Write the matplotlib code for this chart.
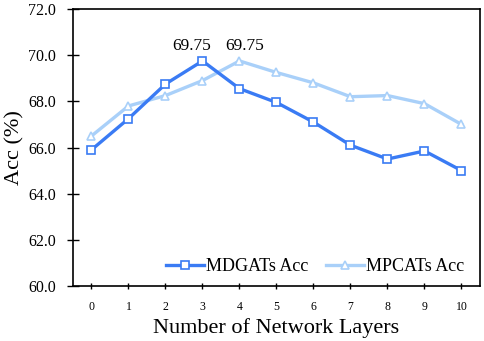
import numpy as np
import matplotlib
matplotlib.use("Agg")
import matplotlib.pyplot as plt

layers = list(range(11))
mdgats_acc = [65.9, 67.25, 68.75, 69.75, 68.55, 67.95, 67.1, 66.1, 65.5, 65.85, 65.0]
mpcats_acc = [66.5, 67.8, 68.25, 68.9, 69.75, 69.25, 68.8, 68.2, 68.25, 67.9, 67.0]
yticks = [60.0, 62.0, 64.0, 66.0, 68.0, 70.0, 72.0]

plt.rcParams['font.family'] = ['Liberation Serif', 'DejaVu Serif']

fig = plt.figure(figsize=(4.85, 3.41), dpi=100)
ax = fig.add_axes([73 / 485, 1 - 286 / 341, (480 - 73) / 485, (286 - 9) / 341])

ax.plot(layers, mdgats_acc, color='#3a7bf4', lw=2.4, marker='s', ms=5.5,
        mfc='white', mec='#3a7bf4', mew=1.2, label='MDGATs Acc', zorder=3)
ax.plot(layers, mpcats_acc, color='#a9d0f9', lw=2.4, marker='^', ms=6,
        mfc='white', mec='#a9d0f9', mew=1.2, label='MPCATs Acc', zorder=2)

# peak labels
ax.text(3 - 0.3, 70.4, f"{mdgats_acc[3]:.2f}", ha='center', va='center', fontsize=12.5)
ax.text(4 + 0.14, 70.4, f"{mpcats_acc[4]:.2f}", ha='center', va='center', fontsize=12.5)

ax.set_xlim(-0.5, 10.5)
ax.set_ylim(60, 72)
ax.set_xticks(layers)
ax.set_yticks(yticks)
ax.set_yticklabels([f"{v:.1f}" for v in yticks])
ax.tick_params(axis='y', direction='inout', length=8, width=1, labelsize=11.5, pad=8)
ax.tick_params(axis='x', direction='inout', length=5, width=1, labelsize=8.5, pad=8)
for s in ax.spines.values():
    s.set_linewidth(1.2)

ax.set_xlabel('Number of Network Layers', fontsize=16, labelpad=4)
ax.set_ylabel('Acc (%)', fontsize=16, labelpad=3)

ax.legend(loc='center', bbox_to_anchor=(0.595, 0.07), ncol=2, frameon=False,
          fontsize=13, handlelength=2.1, columnspacing=1.0, handletextpad=0.1)

fig.savefig('out.png', dpi=100)
